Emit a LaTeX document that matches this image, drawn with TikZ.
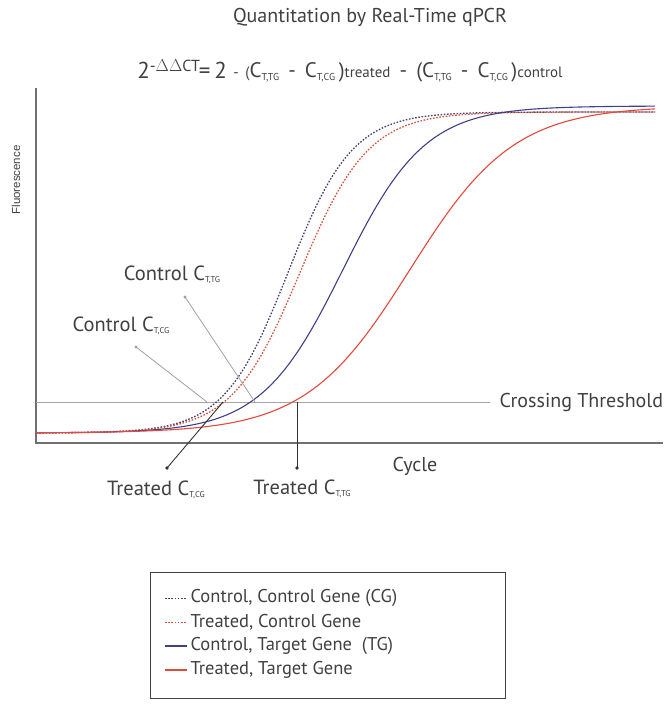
\documentclass[tikz,border=0pt]{standalone}
\usepackage{fontspec}
\setmainfont{PT Sans}
\newfontfamily\arialfont{Liberation Sans}
\usepackage{xcolor}
\definecolor{cgcontrol}{HTML}{4B3F72}
\definecolor{cgtreated}{HTML}{D2553F}
\definecolor{tgcontrol}{HTML}{3F3F8C}
\definecolor{tgtreated}{HTML}{E5483C}
\definecolor{axisgray}{HTML}{707070}
\tikzstyle{dottedcurve} = [line width=1.3pt, dash pattern=on 1.6pt off 1.6pt]
\tikzstyle{solidcurve} = [line width=1.1pt]
\tikzstyle{leader} = [line width=0.8pt, draw=gray!75]
\tikzstyle{darkleader} = [line width=0.9pt, draw=black!80]
\newcommand{\fsz}[1]{\fontsize{#1}{#1}\selectfont}
\newcommand{\ctsub}[1]{\raisebox{-2.5pt}{\fsz{8.5}#1}}
\newcommand{\eqsub}[1]{\raisebox{-3pt}{\fsz{10}#1}}

\begin{document}
\begin{tikzpicture}[x=1pt, y=-1pt]
		\useasboundingbox (0,0) rectangle (663,708);
		\coordinate (ytop) at (36,88);
		\coordinate (origin) at (36,443);
		\coordinate (xend) at (663,443);
		\coordinate (thstart) at (36,402);
		\coordinate (thend) at (490,402);
		% crossing points on the threshold and label dots
		\coordinate (ctgcross) at (255,402);
		\coordinate (ctgdot) at (185,297);
		\coordinate (ccgcross) at (207,402);
		\coordinate (ccgdot) at (136,347);
		\coordinate (tcgcross) at (223,402);
		\coordinate (tcgdot) at (167,468);
		\coordinate (ttgcross) at (297,402);
		\coordinate (ttgdot) at (297,468);
		% Title and formula
		\node[name=title, font=\fsz{20}, text=black!75] at (370,17) {Quantitation by Real-Time qPCR};
		\node[name=formula, font=\fsz{23}, text=black!75] at (350,71) {2\raisebox{7pt}{\fsz{16}-$\Delta\Delta$CT}\kern-1pt=\,2\raisebox{1pt}{\fsz{15}\ \,- \,(\fsz{21}C\eqsub{T,TG} \,- \,C\eqsub{T,CG}\,){\fsz{15}treated} \,- \,(C\eqsub{T,TG} \,- \,C\eqsub{T,CG}\,){\fsz{15}control}}};
		% Axes and threshold
		\draw[axisgray, line width=1.8pt] (ytop) -- (origin) -- (xend);
		\draw[gray!70, line width=0.8pt] (thstart) -- (thend);
		\node[name=threshold, anchor=west, font=\fsz{20}, text=black!75] at (496,402) {Crossing Threshold};
		\node[name=ylabel, rotate=90, font=\arialfont\fsz{11.5}, text=black!75] at (16,180) {Fluorescence};
		\node[name=xlabel, font=\fsz{20}, text=black!75] at (415,466) {Cycle};
		% Amplification curves
		\draw[dottedcurve, cgcontrol] plot[domain=36:655, samples=160] (\x, {433 - 321/(1+exp(-(\x-288)/32))});
		\draw[dottedcurve, cgtreated] plot[domain=36:655, samples=160] (\x, {433 - 321/(1+exp(-(\x-300)/34))});
		\draw[solidcurve, tgcontrol] plot[domain=36:655, samples=160] (\x, {433 - 327/(1+exp(-(\x-343)/41))});
		\draw[solidcurve, tgtreated] plot[domain=36:655, samples=160] (\x, {433 - 327/(1+exp(-(\x-410)/52))});
		% Ct labels
		\begin{scope}[every node/.style={font=\fsz{20.5}, text=black!75}]
		\node[name=ctglabel] at (172,275) {Control C\ctsub{T,TG}};
		\node[name=ccglabel] at (121,326) {Control C\ctsub{T,CG}};
		\node[name=tcglabel] at (156,490) {Treated C\ctsub{T,CG}};
		\node[name=ttglabel] at (302,489) {Treated C\ctsub{T,TG}};
		\end{scope}
		\draw[leader] (ctgdot) -- (ctgcross);
		\draw[leader] (ccgdot) -- (ccgcross);
		\draw[darkleader] (tcgdot) -- (tcgcross);
		\draw[darkleader] (ttgdot) -- (ttgcross);
		\fill[gray!75] (ctgdot) circle (1.6);
		\fill[gray!75] (ccgdot) circle (1.6);
		\fill[black!80] (tcgdot) circle (1.8);
		\fill[black!80] (ttgdot) circle (1.8);
		% Legend
		\node[name=legend, draw=black!75, line width=1pt, minimum width=355pt, minimum height=126pt] at (327.5,635) {};
		\begin{scope}[every node/.style={anchor=west, font=\fsz{18.5}, text=black!75}]
		\node[name=leg1] at (187,598) {Control, Control Gene (CG)};
		\node[name=leg2] at (187,622) {Treated, Control Gene};
		\node[name=leg3] at (187,646) {Control, Target Gene\ \ (TG)};
		\node[name=leg4] at (187,670) {Treated, Target Gene};
		\end{scope}
		\draw[dottedcurve, cgcontrol, line width=0.9pt] ([xshift=-22pt]leg1.west) -- (leg1.west);
		\draw[dottedcurve, cgtreated, line width=0.9pt] ([xshift=-22pt]leg2.west) -- (leg2.west);
		\draw[solidcurve, tgcontrol] ([xshift=-22pt]leg3.west) -- (leg3.west);
		\draw[solidcurve, tgtreated] ([xshift=-22pt]leg4.west) -- (leg4.west);
		\end{tikzpicture}
\end{document}
